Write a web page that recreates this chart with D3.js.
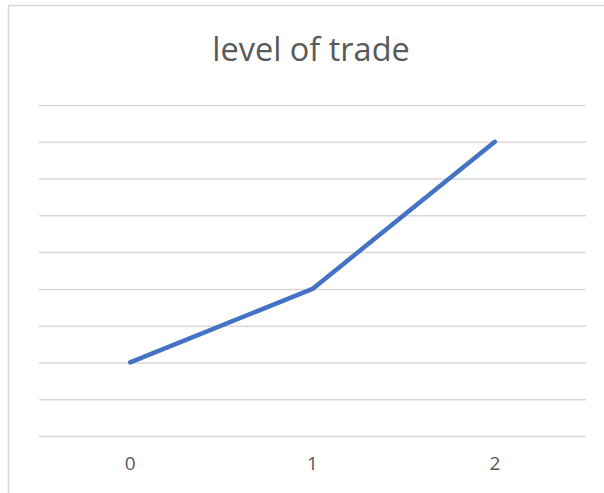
<!DOCTYPE html>
<html>
<head>
<meta charset="utf-8">
<script src="https://cdn.jsdelivr.net/npm/d3@7"></script>
<style>
  html, body { margin: 0; padding: 0; background: #fff; }
  svg { display: block; }
</style>
</head>
<body>
<svg id="chart" width="604" height="493"></svg>
<script>
// Chart data
const categories = ["0", "1", "2"];
const tradeLevel = [2, 4, 8];
const yTicks = [0, 1, 2, 3, 4, 5, 6, 7, 8, 9];
const chartTitle = "level of trade";

const svg = d3.select("#chart");
const W = 604, H = 493;
const margin = { left: 39, right: 18, top: 105, bottom: 57 };
const plotW = W - margin.left - margin.right;
const plotH = H - margin.top - margin.bottom;

// Outer chart frame (right and bottom edges fall outside the view)
svg.append("rect")
  .attr("x", 8.5).attr("y", 5.5)
  .attr("width", 620).attr("height", 520)
  .attr("fill", "#fff")
  .attr("stroke", "#d9d9d9")
  .attr("stroke-width", 1.5);

const x = d3.scaleBand().domain(categories).range([0, plotW]);
const y = d3.scaleLinear().domain([0, 9]).range([plotH, 0]);

const g = svg.append("g").attr("transform", `translate(${margin.left},${margin.top})`);

// Horizontal gridlines
const yAxis = d3.axisLeft(y).tickValues(yTicks).tickSize(-plotW).tickFormat("");
g.append("g").call(yAxis)
  .call(s => s.select(".domain").remove())
  .call(s => s.selectAll(".tick line").attr("stroke", "#d9d9d9").attr("stroke-width", 1.5));

// Category axis labels
const xAxis = d3.axisBottom(x).tickSize(0).tickPadding(21);
g.append("g").attr("transform", `translate(0,${plotH})`).call(xAxis)
  .call(s => s.select(".domain").remove())
  .call(s => s.selectAll(".tick text")
    .attr("fill", "#595959")
    .attr("font-family", "'Open Sans', 'Liberation Sans', sans-serif")
    .attr("font-size", 19));

// Series line
const line = d3.line()
  .x((d, i) => x(categories[i]) + x.bandwidth() / 2)
  .y(d => y(d));
g.append("path")
  .datum(tradeLevel)
  .attr("d", line)
  .attr("fill", "none")
  .attr("stroke", "#4472c4")
  .attr("stroke-width", 4.5)
  .attr("stroke-linecap", "round")
  .attr("stroke-linejoin", "round");

// Title
svg.append("text")
  .attr("x", 311)
  .attr("y", 61)
  .attr("text-anchor", "middle")
  .attr("fill", "#595959")
  .attr("font-family", "'Open Sans', 'Liberation Sans', sans-serif")
  .attr("font-size", 32.5)
  .text(chartTitle);
</script>
</body>
</html>
